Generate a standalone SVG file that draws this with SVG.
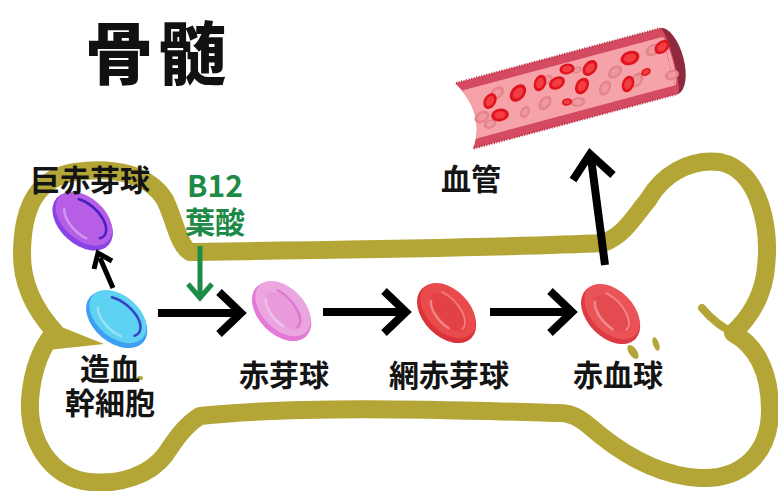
<svg xmlns="http://www.w3.org/2000/svg" xmlns:xlink="http://www.w3.org/1999/xlink" width="778" height="491" viewBox="0 0 778 491">
  <style>
    .lbl { font-family: "Noto Sans CJK JP", "Noto Sans", sans-serif; font-weight: 700; font-size: 30px; fill: #141414; text-anchor: middle; }
    .title { font-family: "Noto Sans CJK JP", "Noto Sans", sans-serif; font-weight: 900; font-size: 68px; fill: #111; text-anchor: middle; letter-spacing: 5px; }
    .green { fill: #1d8a47; }
    .bone { fill: none; stroke: #b3a636; stroke-width: 18; stroke-linejoin: round; }
    .olive { fill: #b3a636; }
    .arrow { fill: none; stroke: #000; stroke-width: 8; stroke-linejoin: miter; }
    .arrow-thin { fill: none; stroke: #000; stroke-width: 5; }
    .arrow-green { fill: none; stroke: #1d8a47; stroke-width: 5; }
    .hl { fill: none; stroke: #fff; stroke-opacity: .35; stroke-width: 2.5; stroke-linecap: round; }
  </style>
  <defs>
    <!-- small blood cells inside the vessel -->
    <g id="rbcA">
      <ellipse rx="8.5" ry="6" fill="#e0141e"/>
      <ellipse rx="5.5" ry="3.6" fill="#f23d42"/>
    </g>
    <g id="rbcB">
      <ellipse rx="8" ry="5.5" fill="#e5838b"/>
      <ellipse rx="5" ry="3.3" fill="#ee999f"/>
    </g>
    <clipPath id="tubeClip">
      <path d="M0,-34 L212,-34 L212,34 L0,34 Q22,4 0,-34Z"/>
    </clipPath>
  </defs>

  <rect width="778" height="491" fill="#fff"/>

  <!-- bone outline -->
  <g id="bone">
    <path class="bone" d="M190,252 C300,250 500,248 603,243 C625,235 635,215 648,200 C662,175 690,158 720,162 C760,170 772,230 765,275 C760,305 745,322 733,333 C755,345 770,370 770,410 C770,455 740,480 700,478 C660,476 625,455 600,435 C585,422 575,413 560,413 C450,410 300,405 200,416 C185,425 175,440 165,455 C150,475 120,485 90,482 C50,478 28,440 30,400 C32,370 42,345 55,332 C35,310 22,285 22,255 C22,210 35,178 75,172 C115,166 150,175 165,200 C175,220 178,245 190,252 Z"/>
    <path class="olive" d="M44,320 L104,344 L48,350 Z"/>
    <path d="M702,308 C712,320 722,328 736,334" fill="none" stroke="#b3a636" stroke-width="8" stroke-linecap="round"/>
    <ellipse class="olive" cx="633" cy="352" rx="4" ry="8" transform="rotate(-35 633 352)"/>
    <ellipse class="olive" cx="656" cy="344" rx="3" ry="7" transform="rotate(-20 656 344)"/>
    <ellipse class="olive" cx="140" cy="378" rx="3" ry="2"/>
  </g>

  <!-- blood vessel -->
  <g id="vessel">
    <g transform="translate(464,116) rotate(-15)">
      <ellipse cx="212" cy="0" rx="15" ry="34" fill="#8e2a3b"/>
      <path d="M0,-34 L212,-34 A5,34 0 0 1 212,34 L0,34 Q22,4 0,-34Z" fill="#d44a60"/>
      <g clip-path="url(#tubeClip)">
        <rect x="0" y="-25" width="212" height="50" fill="#f5a2a8"/>
      </g>
      <path d="M212,-25 A4,25 0 0 1 212,25" fill="#f5a2a8"/>
      <line x1="1" y1="-34" x2="212" y2="-34" stroke="#b8334a" stroke-width="2" stroke-dasharray="1 1.6"/>
      <line x1="1" y1="34" x2="212" y2="34" stroke="#b8334a" stroke-width="2" stroke-dasharray="1 1.6"/>
    </g>
    <use xlink:href="#rbcB" transform="translate(653,50) rotate(-30)"/>
    <use xlink:href="#rbcB" transform="translate(615,72) rotate(-40)"/>
    <use xlink:href="#rbcB" transform="translate(577,70) rotate(-20) scale(.6)"/>
    <use xlink:href="#rbcB" transform="translate(637,80) rotate(-60)"/>
    <use xlink:href="#rbcB" transform="translate(672,75) rotate(-20) scale(.9)"/>
    <use xlink:href="#rbcB" transform="translate(605,88) rotate(-60)"/>
    <use xlink:href="#rbcB" transform="translate(547,80) rotate(-40) scale(.8)"/>
    <use xlink:href="#rbcB" transform="translate(545,103) rotate(-50)"/>
    <use xlink:href="#rbcB" transform="translate(578,102) rotate(-10) scale(.9)"/>
    <use xlink:href="#rbcB" transform="translate(525,112) rotate(-60) scale(.8)"/>
    <use xlink:href="#rbcB" transform="translate(497,93) rotate(-40)"/>
    <use xlink:href="#rbcB" transform="translate(482,117) rotate(-30)"/>
    <use xlink:href="#rbcB" transform="translate(490,124) rotate(-20) scale(.8)"/>
    <use xlink:href="#rbcA" transform="translate(662,47) rotate(-40)"/>
    <use xlink:href="#rbcA" transform="translate(630,58) rotate(-20) scale(1.15)"/>
    <use xlink:href="#rbcA" transform="translate(590,68) rotate(-50) scale(1.05)"/>
    <use xlink:href="#rbcA" transform="translate(567,69) rotate(-10) scale(.9)"/>
    <use xlink:href="#rbcA" transform="translate(646,72) rotate(-30) scale(.6)"/>
    <use xlink:href="#rbcA" transform="translate(628,84) rotate(-70) scale(1)"/>
    <use xlink:href="#rbcA" transform="translate(582,86) rotate(-60) scale(1.05)"/>
    <use xlink:href="#rbcA" transform="translate(557,83) rotate(-30) scale(1)"/>
    <use xlink:href="#rbcA" transform="translate(540,83) rotate(-70) scale(1)"/>
    <use xlink:href="#rbcA" transform="translate(518,93) rotate(-50) scale(1.15)"/>
    <use xlink:href="#rbcA" transform="translate(490,101) rotate(-60) scale(1)"/>
    <use xlink:href="#rbcA" transform="translate(500,115) rotate(-10) scale(1.05)"/>
    <use xlink:href="#rbcA" transform="translate(567,102) rotate(-10) scale(.6)"/>
  </g>

  <!-- cells -->
  <g id="megaloblast" transform="translate(84,220) rotate(42)">
    <ellipse cx="0" cy="2" rx="35" ry="23" fill="#8a44e6"/>
    <ellipse cx="-1" cy="-1" rx="33" ry="21" fill="#b65ee6"/>
    <path d="M-18,-12 A26,14 0 0 1 24,3" fill="none" stroke="#4a1fc2" stroke-width="2.5" stroke-linecap="round"/>
    <path class="hl" d="M-22,5 A26,14 0 0 0 14,12"/>
  </g>
  <g id="stem" transform="translate(118,318) rotate(40)">
    <ellipse cx="0" cy="2" rx="35" ry="23" fill="#3d9ef2"/>
    <ellipse cx="-1" cy="-1" rx="33" ry="21" fill="#5ed2f2"/>
    <path d="M-18,-12 A26,14 0 0 1 24,3" fill="none" stroke="#3246c4" stroke-width="2.5" stroke-linecap="round"/>
    <path class="hl" d="M-22,5 A26,14 0 0 0 14,12"/>
  </g>
  <g id="erythroblast" transform="translate(283,310) rotate(45)">
    <ellipse cx="0" cy="2" rx="35" ry="23" fill="#e679d6"/>
    <ellipse cx="-1" cy="-1" rx="33" ry="21" fill="#eba6e2"/>
    <ellipse cx="1" cy="0" rx="24" ry="12" fill="#e89add"/>
    <path d="M-18,-10 A26,13 0 0 1 22,2" fill="none" stroke="#e070cf" stroke-width="2" stroke-linecap="round"/>
    <path class="hl" d="M-20,4 A24,12 0 0 0 12,11"/>
  </g>
  <g id="reticulocyte" transform="translate(448,312) rotate(45)">
    <ellipse cx="0" cy="2" rx="35" ry="23" fill="#d8343a"/>
    <ellipse cx="-1" cy="-1" rx="33" ry="21" fill="#e94a4c"/>
    <ellipse cx="1" cy="0" rx="24" ry="12" fill="#e24246"/>
    <path d="M-18,-10 A26,13 0 0 1 22,2" fill="none" stroke="#f4787a" stroke-width="2" stroke-linecap="round"/>
    <path class="hl" d="M-20,4 A24,12 0 0 0 12,11"/>
  </g>
  <g id="rbc" transform="translate(612,313) rotate(45)">
    <ellipse cx="0" cy="2" rx="35" ry="23" fill="#dc3b44"/>
    <ellipse cx="-1" cy="-1" rx="33" ry="21" fill="#ea5357"/>
    <ellipse cx="1" cy="0" rx="24" ry="12" fill="#e44b50"/>
    <path d="M-18,-10 A26,13 0 0 1 22,2" fill="none" stroke="#f58183" stroke-width="2" stroke-linecap="round"/>
    <path class="hl" d="M-20,4 A24,12 0 0 0 12,11"/>
  </g>

  <!-- connectors -->
  <g id="connectors">
    <path class="arrow-thin" d="M113,288 L100,258"/>
    <path class="arrow-thin" d="M112,261 L98,253 L94,269"/>
    <path class="arrow" d="M158,313 L236,313 M219,292 L241,313 L219,334"/>
    <path class="arrow" d="M323,312 L401,312 M384,291 L406,312 L384,333"/>
    <path class="arrow" d="M490,312 L567,312 M550,291 L572,312 L550,333"/>
    <path class="arrow" d="M605,265 L591,158 M573,180 L590,154 L613,175"/>
    <path class="arrow-green" d="M200,246 L200,294 M188,284 L200,298 L212,284"/>
  </g>

  <!-- labels -->
  <text class="title" x="158" y="79">骨髄</text>
  <text class="lbl" x="90" y="191">巨赤芽球</text>
  <text class="lbl green" x="215" y="197">B12</text>
  <text class="lbl green" x="215" y="233">葉酸</text>
  <text class="lbl" x="471" y="190">血管</text>
  <text class="lbl" x="110" y="380">造血</text>
  <text class="lbl" x="110" y="414">幹細胞</text>
  <text class="lbl" x="284" y="386">赤芽球</text>
  <text class="lbl" x="449" y="386">網赤芽球</text>
  <text class="lbl" x="618" y="386">赤血球</text>
</svg>
